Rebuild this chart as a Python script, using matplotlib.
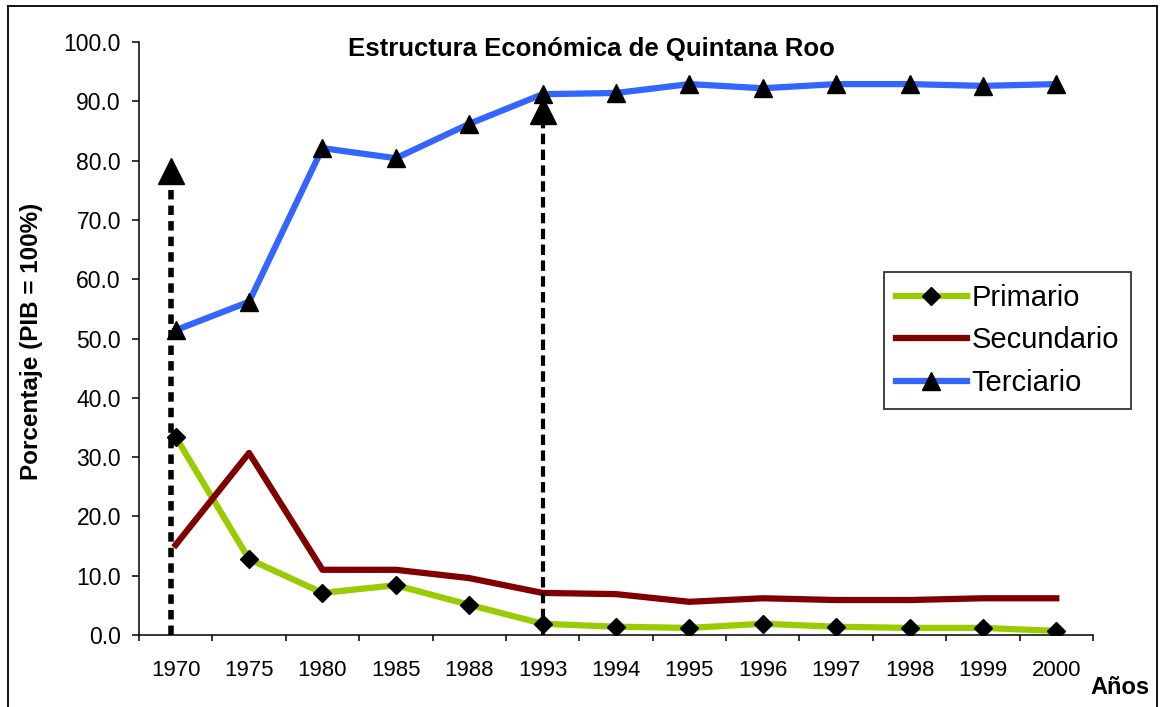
import matplotlib
matplotlib.use("Agg")
import matplotlib.pyplot as plt
from matplotlib.lines import Line2D
import numpy as np

plt.rcParams['font.family'] = ['Liberation Sans', 'DejaVu Sans']

years = ["1970", "1975", "1980", "1985", "1988", "1993", "1994",
         "1995", "1996", "1997", "1998", "1999", "2000"]
primario = [33.4, 12.8, 7.1, 8.4, 5.1, 1.9, 1.4, 1.2, 1.9, 1.4, 1.2, 1.2, 0.7]
secundario = [15.2, 30.7, 11.0, 11.0, 9.6, 7.1, 6.9, 5.6, 6.2, 5.9, 5.9, 6.2, 6.2]
terciario = [51.4, 56.2, 82.1, 80.4, 86.2, 91.2, 91.4, 92.9, 92.2, 92.9, 92.9, 92.6, 92.9]
# dashed arrows: (year index, arrow head centre value)
arrows = [(0, 78.3), (5, 88.4)]

fig = plt.figure(figsize=(11.62, 7.07), dpi=100)
ax = fig.add_axes([0.1196, 0.1018, 0.821, 0.8388])
x = np.arange(len(years))

ax.plot(x, primario, color="#99CC00", lw=4.5, marker="D", markersize=9,
        markerfacecolor="black", markeredgecolor="black", label="Primario",
        zorder=3)
ax.plot(x, secundario, color="#800000", lw=4.5, label="Secundario", zorder=3)
ax.plot(x, terciario, color="#3366FF", lw=4.5, marker="^", markersize=12.5,
        markerfacecolor="black", markeredgecolor="black", label="Terciario",
        zorder=3)

# vertical dashed arrows
styles = [(-0.06, 4.0, (0, (1.7, 1.1))), (0.0, 3.0, (0, (2.5, 1.3)))]
for (i, head), (dx, lw, ls) in zip(arrows, styles):
    ax.plot([i + dx, i + dx], [0, head - 2], color="black", lw=lw,
            linestyle=ls, zorder=4, clip_on=False)
    ax.plot([i + dx], [head], marker="^", markersize=19,
            color="black", zorder=5, clip_on=False)

ax.set_xlim(-0.5, len(years) - 0.5)
ax.set_ylim(0, 100)
ax.set_yticks(np.arange(0, 101, 10))
ax.set_yticklabels([f"{v:.1f}" for v in range(0, 101, 10)], fontsize=16.5)
ax.set_xticks(x)
ax.set_xticklabels(years, fontsize=16)
ax.set_xticks(np.arange(-0.5, len(years), 1), minor=True)
ax.tick_params(axis="x", which="major", length=0, pad=18)
ax.tick_params(axis="x", which="minor", length=4, width=1.1)
ax.tick_params(axis="y", length=5, width=1.1, pad=8)
for s in ["top", "right"]:
    ax.spines[s].set_visible(False)
for s in ["left", "bottom"]:
    ax.spines[s].set_linewidth(1.1)

ax.set_ylabel("Porcentaje (PIB = 100%)", fontsize=17.5, fontweight="bold")
ax.yaxis.set_label_coords(-0.101, 0.496)
ax.text(0.474, 1.008, "Estructura Económica de Quintana Roo",
        transform=ax.transAxes, ha="center", va="top", fontsize=18.5,
        fontweight="bold")
fig.text(0.964, 0.027, "Años", ha="center", va="center", fontsize=17,
         fontweight="bold")

leg = ax.legend(loc="upper left", bbox_to_anchor=(0.781, 0.612), fontsize=21,
                frameon=True, fancybox=False, edgecolor="black",
                handlelength=2.45, handletextpad=0.15, borderpad=0.4,
                borderaxespad=0, labelspacing=0.5, numpoints=1)
leg.get_frame().set_linewidth(1.3)

# frame around the picture
for xs, ys in [([0.0065, 0.0065], [0.0, 0.9915]),
               ([0.0065, 0.996], [0.9915, 0.9915]),
               ([0.996, 0.996], [0.0, 0.9915])]:
    fig.add_artist(Line2D(xs, ys, transform=fig.transFigure, color="black",
                          lw=1.3))

fig.savefig("out.png", dpi=100)
